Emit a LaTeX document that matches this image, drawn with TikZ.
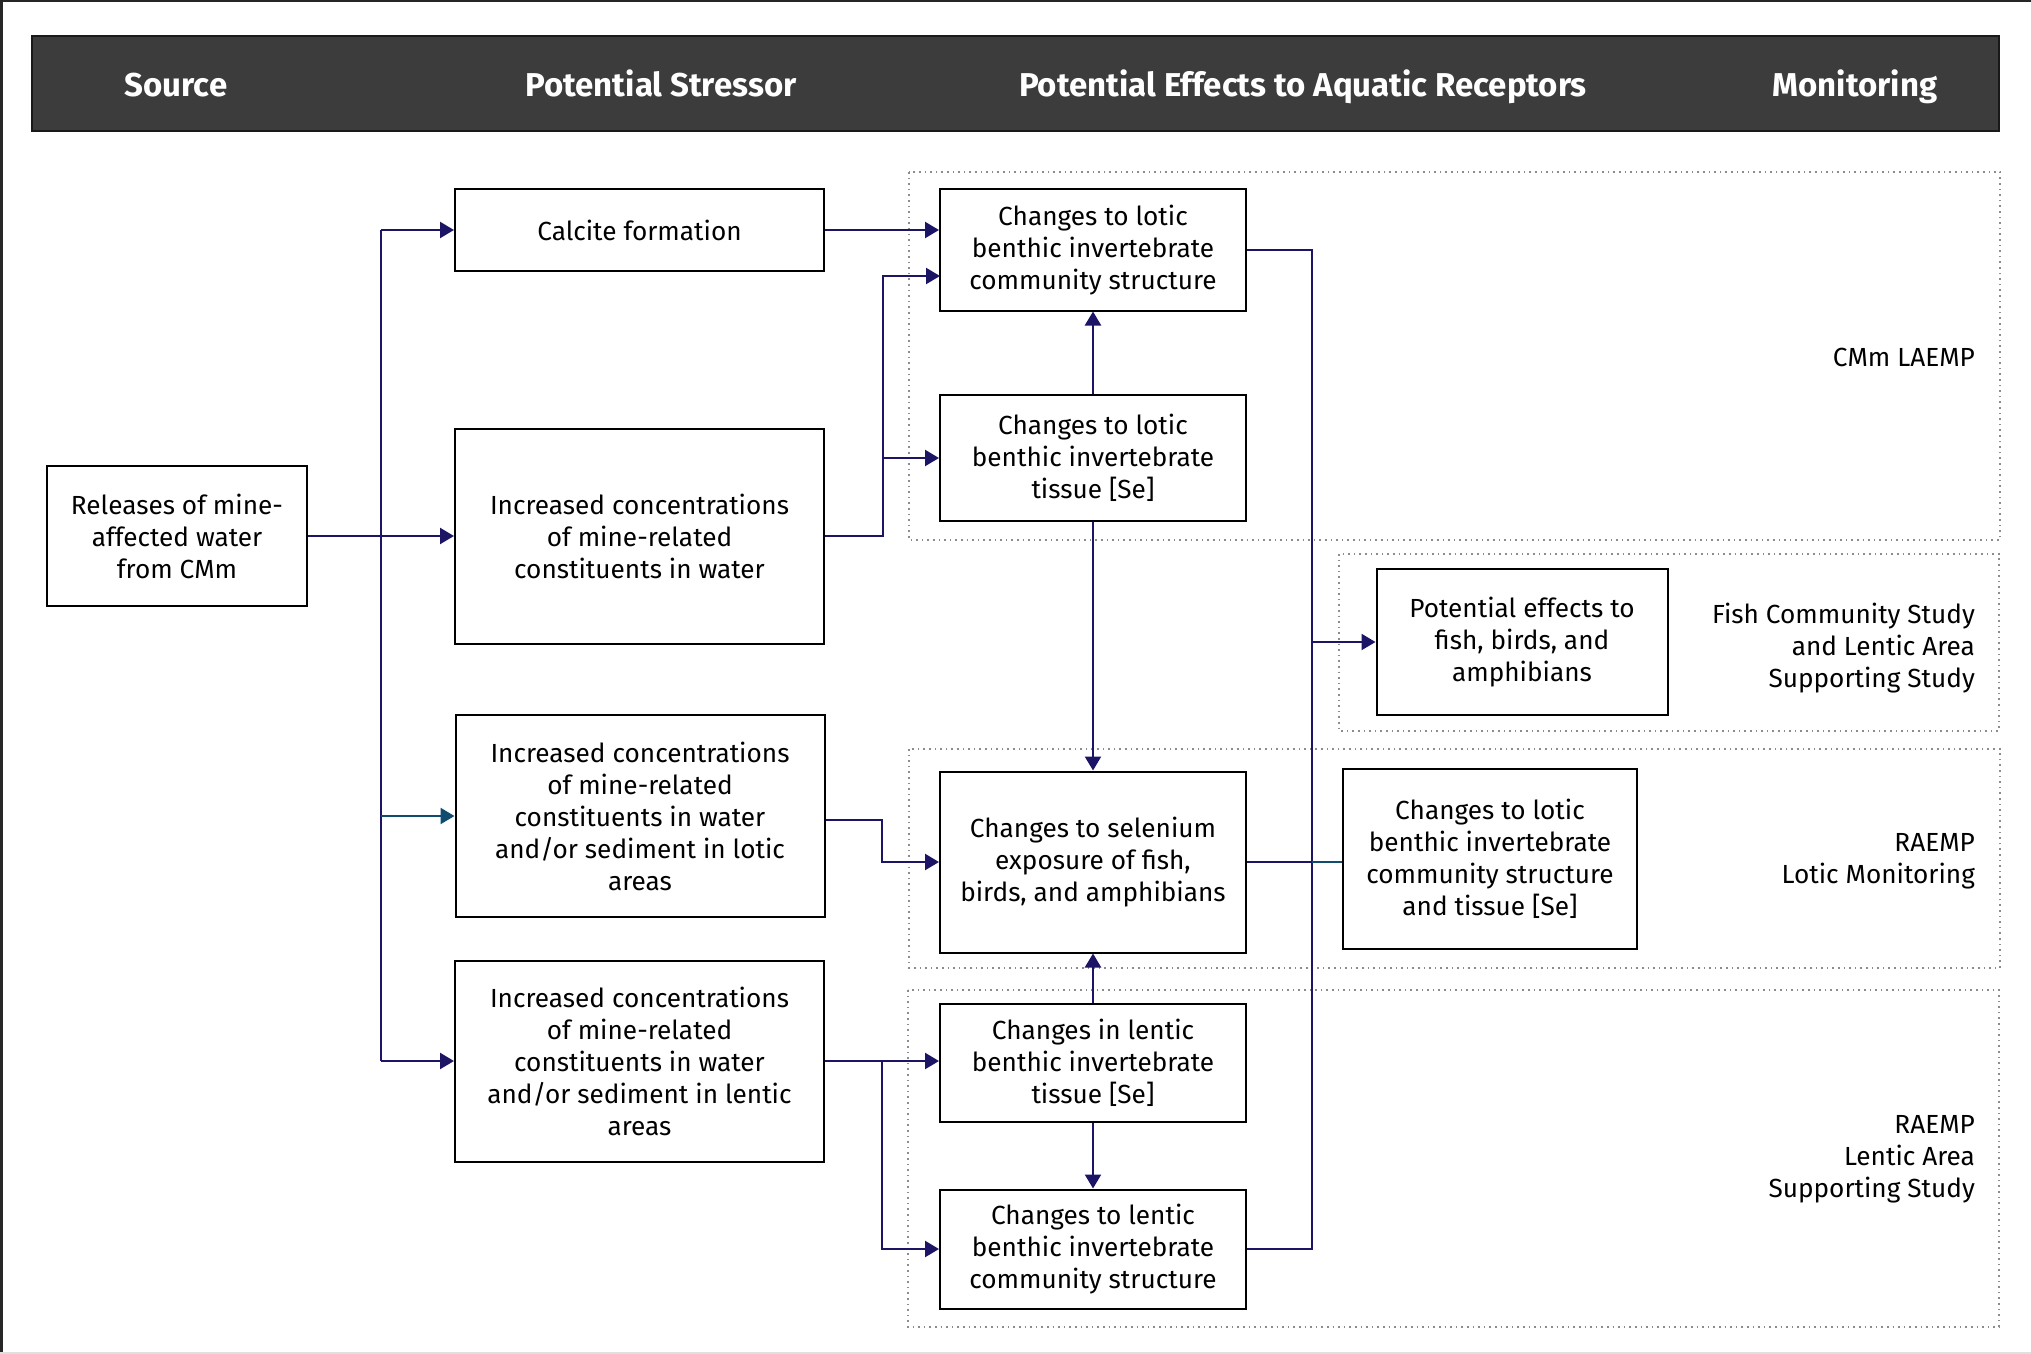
\documentclass[tikz,border=0pt]{standalone}
\usepackage{fontspec}
\setmainfont{Fira Sans}
\usetikzlibrary{arrows.meta}
\definecolor{navy}{RGB}{28,20,100}
\definecolor{tealc}{RGB}{15,76,112}
\definecolor{hdr}{RGB}{60,60,60}
\definecolor{dotg}{RGB}{140,140,140}
\tikzset{
  box/.style={draw=black,line width=1pt,align=center,inner sep=2pt,
    font=\fontsize{13.1}{16}\selectfont},
  con/.style={draw=navy,line width=1.2pt},
  arr/.style={con,-{Triangle[length=7pt,width=8pt]}},
  arrt/.style={draw=tealc,line width=1.2pt,-{Triangle[length=7pt,width=8pt]}},
  grp/.style={draw=dotg,line width=0.8pt,dotted},
  mon/.style={align=right,anchor=east,font=\fontsize{13.1}{16}\selectfont},
  hd/.style={text=white,anchor=base,font=\bfseries\fontsize{16.5}{19}\selectfont},
}
\begin{document}
\begin{tikzpicture}[x=0.5pt,y=-0.5pt]
\useasboundingbox (0,0) rectangle (2031,1354);
\fill[white] (0,0) rectangle (2031,1354);
% frame
\draw[black!85,line width=1.5pt] (1,1354) -- (1,1) -- (2031,1);
\draw[black!12,line width=1pt] (0,1353) -- (2031,1353);
% header
\draw[fill=hdr,draw=black!90,line width=1.2pt] (32,36) rectangle (1999,131);
\node[hd] (h1) at (176,97) {Source};
\node[hd] (h2) at (661,97) {Potential Stressor};
\node[hd] (h3) at (1303,97) {Potential Effects to Aquatic Receptors};
\node[hd] (h4) at (1855,97) {Monitoring};
% groups
\draw[grp] (909,172) rectangle (2000,540);
\draw[grp] (1339,554) rectangle (1999,731);
\draw[grp] (909,749) rectangle (2000,968);
\draw[grp] (908,990) rectangle (1999,1327);
\node[mon] (m1) at (1982,357) {CMm LAEMP};
\node[mon] (m2) at (1982,648) {Fish Community Study\\and Lentic Area\\Supporting Study};
\node[mon] (m3) at (1982,861) {RAEMP\\Lotic Monitoring};
\node[mon] (m4) at (1982,1159) {RAEMP\\Lentic Area\\Supporting Study};
% boxes
\node[box,minimum width=130pt,minimum height=70pt] (rel) at (177,536) {Releases of mine-\\affected water\\from CMm};
\node[box,minimum width=184.5pt,minimum height=41pt] (calc) at (639.5,230) {Calcite formation};
\node[box,minimum width=184.5pt,minimum height=107.5pt] (iw) at (639.5,536) {Increased concentrations\\of mine-related\\constituents in water};
\node[box,minimum width=184.5pt,minimum height=101pt] (ilo) at (640,816) {Increased concentrations\\of mine-related\\constituents in water\\and/or sediment in lotic\\areas};
\node[box,minimum width=184.5pt,minimum height=100.5pt] (ile) at (639.5,1061) {Increased concentrations\\of mine-related\\constituents in water\\and/or sediment in lentic\\areas};
\node[box,minimum width=153pt,minimum height=60.5pt] (A) at (1093,250) {Changes to lotic\\benthic invertebrate\\community structure};
\node[box,minimum width=153pt,minimum height=63pt] (B) at (1093,458) {Changes to lotic\\benthic invertebrate\\tissue [Se]};
\node[box,minimum width=153pt,minimum height=90.5pt] (C) at (1093,862) {Changes to selenium\\exposure of fish,\\birds, and amphibians};
\node[box,minimum width=153pt,minimum height=59pt] (D) at (1093,1063) {Changes in lentic\\benthic invertebrate\\tissue [Se]};
\node[box,minimum width=153pt,minimum height=59.5pt] (E) at (1093,1249) {Changes to lentic\\benthic invertebrate\\community structure};
\node[box,minimum width=145.5pt,minimum height=73pt] (F) at (1522,642) {Potential effects to\\fish, birds, and\\amphibians};
\node[box,minimum width=147pt,minimum height=90pt] (G) at (1490,859) {Changes to lotic\\benthic invertebrate\\community structure\\and tissue [Se]};
% junction coordinates
\coordinate (trT) at (381,230);
\coordinate (trB) at (381,1061);
\coordinate (j1) at (883,536);
\coordinate (a2) at (940,276);
\coordinate (j2) at (882,820);
\coordinate (j3) at (882,1061);
\coordinate (j4) at (1312,642);
\coordinate (j5) at (1312,862);
% connectors
\draw[con] (trT) -- (trB);
\draw[arr] (trT) -- (calc.west);
\draw[arr] (rel.east) -- (iw.west);
\draw[arrt] (ilo.west -| trT) -- (ilo.west);
\draw[arr] (trB) -- (ile.west);
\draw[arr] (calc.east) -- (calc.east -| A.west);
\draw[arr] (iw.east) -- (j1) |- (a2);
\draw[arr] (j1) |- (B.west);
\draw[arr] (B.north) -- (A.south);
\draw[arr] (B.south) -- (C.north);
\draw[arr] (ilo.east |- j2) -- (j2) |- (C.west);
\draw[arr] (ile.east) -- (ile.east -| D.west);
\draw[arr] (j3) |- (E.west);
\draw[arr] (D.north) -- (C.south);
\draw[arr] (D.south) -- (E.north);
\draw[con] (A.east) -| (j4);
\draw[con] (E.east) -| (j4);
\draw[arr] (j4) -- (F.west);
\draw[con] (C.east) -- (j5);
\draw[draw=tealc,line width=1.2pt] (j5) -- (j5 -| G.west);
\end{tikzpicture}
\end{document}
